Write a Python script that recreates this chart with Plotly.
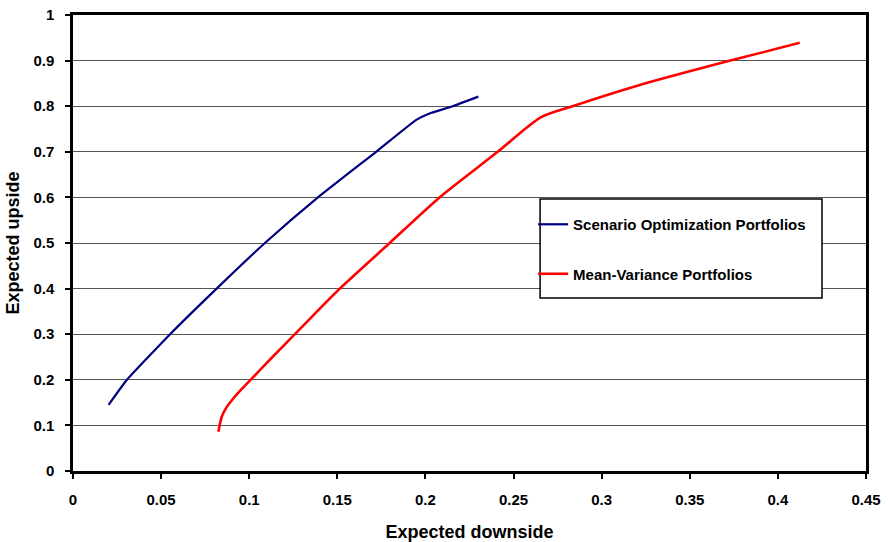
import plotly.graph_objects as go

# Scenario Optimization Portfolios (expected downside, expected upside)
so_down = [0.0202, 0.0306, 0.0551, 0.0815, 0.1089, 0.139, 0.172, 0.1948, 0.2023, 0.2155, 0.230]
so_up = [0.145, 0.2, 0.3, 0.4, 0.5, 0.6, 0.7, 0.77, 0.784, 0.8, 0.821]

# Mean-Variance Portfolios
mv_down = [0.0825, 0.0832, 0.0845, 0.0872, 0.0912, 0.0958, 0.1008, 0.1132, 0.1259, 0.1385,
           0.1514, 0.1797, 0.208, 0.241, 0.2656, 0.2835, 0.3212, 0.373, 0.4124]
mv_up = [0.086, 0.100, 0.120, 0.140, 0.160, 0.180, 0.200, 0.250, 0.3, 0.35,
         0.4, 0.5, 0.6, 0.7, 0.776, 0.8, 0.846, 0.9, 0.939]

x_title = "Expected downside"
y_title = "Expected upside"
names = ["Scenario Optimization Portfolios", "Mean-Variance Portfolios"]

FONT = "Arial, Liberation Sans, Helvetica, sans-serif"

fig = go.Figure()
fig.add_trace(go.Scatter(x=so_down, y=so_up, mode="lines", name=names[0],
                         line=dict(color="#000080", width=2.2, shape="spline", smoothing=0.4),
                         legendgroup="a"))
fig.add_trace(go.Scatter(x=mv_down, y=mv_up, mode="lines", name=names[1],
                         line=dict(color="#FF0000", width=2.6, shape="spline", smoothing=0.7),
                         legendgroup="b"))

axis_common = dict(
    showline=True, linecolor="black", linewidth=2.5, mirror=True,
    ticks="outside", ticklen=5, tickwidth=1.5, tickcolor="black",
    zeroline=False, automargin=False,
    tickfont=dict(family=FONT, size=15, color="black", weight="bold"),
)

fig.update_xaxes(range=[0, 0.45], dtick=0.05, tick0=0, showgrid=False,
                 ticklabelstandoff=8,
                 title=dict(text=x_title, standoff=20,
                            font=dict(family=FONT, size=18, color="black", weight="bold")),
                 **axis_common)
fig.update_yaxes(range=[0, 1], dtick=0.1, tick0=0, showgrid=True,
                 gridcolor="#555555", gridwidth=1, ticklabelstandoff=8,
                 title=dict(text=y_title, standoff=10,
                            font=dict(family=FONT, size=18, color="black", weight="bold")),
                 **axis_common)

# legend frame box
fig.add_shape(type="rect", xref="paper", yref="paper",
              x0=0.589, x1=0.9445, y0=0.3794, y1=0.5965,
              fillcolor="white", line=dict(color="black", width=1.5), layer="above")

fig.update_layout(
    width=888, height=542,
    margin=dict(l=73, r=22, t=15, b=71),
    plot_bgcolor="white", paper_bgcolor="white",
    legend=dict(x=0.5802, y=0.5767, xanchor="left", yanchor="top",
                bgcolor="rgba(0,0,0,0)", borderwidth=0,
                font=dict(family=FONT, size=15, color="black", weight="bold"),
                tracegroupgap=27, traceorder="grouped"),
)

fig.write_html("out.html")
